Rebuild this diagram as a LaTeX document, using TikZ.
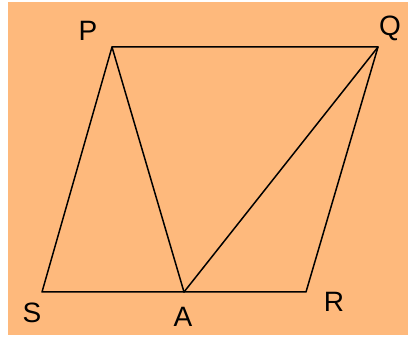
\documentclass[tikz,border=0pt]{standalone}
\usepackage{fontspec}
\setmainfont{Liberation Sans}
\definecolor{sheetorange}{RGB}{254,185,124}
\tikzset{
  sideline/.style={
    draw=black,
    line width=1.5pt,
    line cap=round,
    line join=round
  },
  vertexlabel/.style={
    font=\fontsize{28}{28}\selectfont,
    inner sep=0pt
  }
}
\begin{document}
\begin{tikzpicture}[x=1pt,y=-1pt]

  % Page frame: white margin left, top and bottom, orange sheet behind the figure.
  \useasboundingbox (0,0) rectangle (408,337);
  \fill[sheetorange] (8,2) rectangle (408,335);

  % Vertices of the parallelogram PQRS and the point A on SR.
  \coordinate (P) at (112,47);
  \coordinate (Q) at (378,47);
  \coordinate (R) at (306,292);
  \coordinate (S) at (42,292);
  \coordinate (A) at (184,292);

  % Parallelogram sides.
  \draw[sideline] (P) -- (Q) -- (R) -- (S) -- cycle;

  % Segments from A to the two upper vertices.
  \draw[sideline] (P) -- (A);
  \draw[sideline] (A) -- (Q);

  % Vertex labels.
  \node[vertexlabel] (labP) at (88,31) {P};
  \node[vertexlabel] (labQ) at (390,28) {Q};
  \node[vertexlabel] (labR) at (334,302) {R};
  \node[vertexlabel] (labS) at (32,313) {S};
  \node[vertexlabel] (labA) at (183,317) {A};

\end{tikzpicture}
\end{document}
